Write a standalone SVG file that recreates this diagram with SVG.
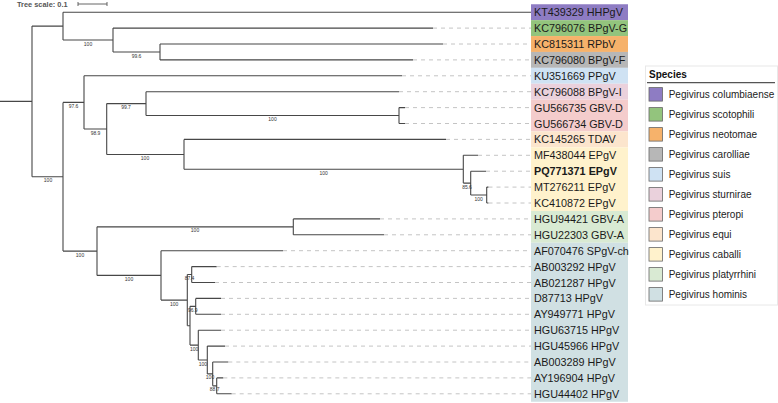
<svg xmlns="http://www.w3.org/2000/svg" width="778" height="403" viewBox="0 0 778 403">
<style>
.br{fill:none;stroke:#474747;stroke-width:1.1}
.ds{fill:none;stroke:#bdbdbd;stroke-width:0.9;stroke-dasharray:4 4}
.bs{font-family:"Liberation Sans",Arial,sans-serif;font-size:5px;fill:#333;text-anchor:middle}
.lb{font-family:"Liberation Sans",Arial,sans-serif;font-size:10.8px;fill:#1a1a1a}
.lg{font-family:"Liberation Sans",Arial,sans-serif;font-size:10px;fill:#222}
.sw{stroke:#666;stroke-width:0.8}
</style>
<rect width="778" height="403" fill="#fff"/>
<g id="tree-scale">
<text x="17" y="6.8" font-family="Liberation Sans,Arial,sans-serif" font-size="7.4" font-weight="bold" fill="#555">Tree scale: 0.1</text>
<path d="M78 4H107M78 2V6M107 2V6" fill="none" stroke="#555" stroke-width="0.9"/>
</g>
<g id="bands">
<rect x="531" y="4.25" width="97" height="15.9" fill="#8e7cc3"/>
<rect x="531" y="20.15" width="97" height="15.9" fill="#93c47d"/>
<rect x="531" y="36.05" width="97" height="15.9" fill="#f6b26b"/>
<rect x="531" y="51.95" width="97" height="15.9" fill="#b7b7b7"/>
<rect x="531" y="67.85" width="97" height="15.9" fill="#cfe2f3"/>
<rect x="531" y="83.75" width="97" height="15.9" fill="#ead1dc"/>
<rect x="531" y="99.65" width="97" height="31.8" fill="#f4cccc"/>
<rect x="531" y="131.45" width="97" height="15.9" fill="#fce5cd"/>
<rect x="531" y="147.35" width="97" height="63.6" fill="#fff2cc"/>
<rect x="531" y="210.95" width="97" height="31.8" fill="#d9ead3"/>
<rect x="531" y="242.75" width="97" height="159" fill="#d0e0e3"/>
</g>
<g id="connectors">
<path class="br" d="M0 101.4H32M32 26.1V176.75"/>
<path class="br" d="M32 26.1H63M63 12.2V40M63 12.2H531"/>
<path class="br" d="M63 40H113M113 28.1V51.95M113 28.1H433"/>
<path class="br" d="M113 51.95H160M160 44V59.9M160 44H443M160 59.9H413"/>
<path class="br" d="M32 176.75H63M63 102.4V251.1"/>
<path class="br" d="M63 102.4H84M84 75.8V129.05M84 75.8H402"/>
<path class="br" d="M84 129.05H106.7M106.7 103.6V154.5"/>
<path class="br" d="M106.7 103.6H146M146 91.7V115.55M146 91.7H399"/>
<path class="br" d="M146 115.55H399M399 107.6V123.5M399 107.6H405M399 123.5H405"/>
<path class="br" d="M106.7 154.5H184M184 139.4V169.2M184 139.4H446"/>
<path class="br" d="M184 169.2H463.3M463.3 155.3V183.1M463.3 155.3H478"/>
<path class="br" d="M463.3 183.1H470.7M470.7 171.2V195.05M470.7 171.2H486"/>
<path class="br" d="M470.7 195.05H486.7M486.7 187.1V203M486.7 187.1H488.5M486.7 203H488.5"/>
<path class="br" d="M63 251.1H97M97 226.85V275.4"/>
<path class="br" d="M97 226.85H293.3M293.3 218.9V234.8M293.3 218.9H380M293.3 234.8H384"/>
<path class="br" d="M97 275.4H161M161 250.7V300.1M161 250.7H283"/>
<path class="br" d="M161 300.1H187.3M187.3 274.55V325.7"/>
<path class="br" d="M187.3 274.55H191.7M191.7 266.6V282.5M191.7 266.6H216.7M191.7 282.5H215"/>
<path class="br" d="M187.3 325.7H190M190 306.35V345.1"/>
<path class="br" d="M190 306.35H195.7M195.7 298.4V314.3M195.7 298.4H221M195.7 314.3H221"/>
<path class="br" d="M190 345.1H198.3M198.3 330.2V360M198.3 330.2H221"/>
<path class="br" d="M198.3 360H207.3M207.3 346.1V373.9M207.3 346.1H225"/>
<path class="br" d="M207.3 373.9H212.7M212.7 362V385.85M212.7 362H228.3"/>
<path class="br" d="M212.7 385.85H216.7M216.7 377.9V393.8M216.7 377.9H223.3M216.7 393.8H231.7"/>
<path class="ds" d="M433 28.1H531M443 44H531M413 59.9H531M402 75.8H531M399 91.7H531M405 107.6H531M405 123.5H531M446 139.4H531M478 155.3H531M486 171.2H531M488.5 187.1H531M488.5 203H531M380 218.9H531M384 234.8H531M283 250.7H531M216.7 266.6H531M215 282.5H531M221 298.4H531M221 314.3H531M221 330.2H531M225 346.1H531M228.3 362H531M223.3 377.9H531M231.7 393.8H531"/>
</g>
<g id="support">
<text class="bs" x="88" y="45.5">100</text>
<text class="bs" x="136.5" y="57.5">99.6</text>
<text class="bs" x="73.5" y="108">97.6</text>
<text class="bs" x="95.5" y="134.5">98.9</text>
<text class="bs" x="126" y="109">99.7</text>
<text class="bs" x="272.5" y="121">100</text>
<text class="bs" x="145" y="160">100</text>
<text class="bs" x="323.7" y="174.7">100</text>
<text class="bs" x="467" y="188.6">85.6</text>
<text class="bs" x="478.7" y="200.5">100</text>
<text class="bs" x="48" y="182.2">100</text>
<text class="bs" x="80" y="256.6">100</text>
<text class="bs" x="195" y="232.3">100</text>
<text class="bs" x="129" y="280.9">100</text>
<text class="bs" x="174.2" y="305.6">100</text>
<text class="bs" x="189.5" y="280">87.4</text>
<text class="bs" x="192.8" y="311.8">96.9</text>
<text class="bs" x="194.2" y="350.6">100</text>
<text class="bs" x="202.8" y="365.5">100</text>
<text class="bs" x="210" y="379.4">100</text>
<text class="bs" x="214.7" y="391.3">88.7</text>
</g>
<g id="leaf-KT439329"><text class="lb" x="534" y="16.2">KT439329 HHPgV</text></g>
<g id="leaf-KC796076"><text class="lb" x="534" y="32.1">KC796076 BPgV-G</text></g>
<g id="leaf-KC815311"><text class="lb" x="534" y="48">KC815311 RPbV</text></g>
<g id="leaf-KC796080"><text class="lb" x="534" y="63.9">KC796080 BPgV-F</text></g>
<g id="leaf-KU351669"><text class="lb" x="534" y="79.8">KU351669 PPgV</text></g>
<g id="leaf-KC796088"><text class="lb" x="534" y="95.7">KC796088 BPgV-I</text></g>
<g id="leaf-GU566735"><text class="lb" x="534" y="111.6">GU566735 GBV-D</text></g>
<g id="leaf-GU566734"><text class="lb" x="534" y="127.5">GU566734 GBV-D</text></g>
<g id="leaf-KC145265"><text class="lb" x="534" y="143.4">KC145265 TDAV</text></g>
<g id="leaf-MF438044"><text class="lb" x="534" y="159.3">MF438044 EPgV</text></g>
<g id="leaf-PQ771371"><text class="lb" x="534" y="175.2" font-weight="bold">PQ771371 EPgV</text></g>
<g id="leaf-MT276211"><text class="lb" x="534" y="191.1">MT276211 EPgV</text></g>
<g id="leaf-KC410872"><text class="lb" x="534" y="207">KC410872 EPgV</text></g>
<g id="leaf-HGU94421"><text class="lb" x="534" y="222.9">HGU94421 GBV-A</text></g>
<g id="leaf-HGU22303"><text class="lb" x="534" y="238.8">HGU22303 GBV-A</text></g>
<g id="leaf-AF070476"><text class="lb" x="534" y="254.7">AF070476 SPgV-ch</text></g>
<g id="leaf-AB003292"><text class="lb" x="534" y="270.6">AB003292 HPgV</text></g>
<g id="leaf-AB021287"><text class="lb" x="534" y="286.5">AB021287 HPgV</text></g>
<g id="leaf-D87713"><text class="lb" x="534" y="302.4">D87713 HPgV</text></g>
<g id="leaf-AY949771"><text class="lb" x="534" y="318.3">AY949771 HPgV</text></g>
<g id="leaf-HGU63715"><text class="lb" x="534" y="334.2">HGU63715 HPgV</text></g>
<g id="leaf-HGU45966"><text class="lb" x="534" y="350.1">HGU45966 HPgV</text></g>
<g id="leaf-AB003289"><text class="lb" x="534" y="366">AB003289 HPgV</text></g>
<g id="leaf-AY196904"><text class="lb" x="534" y="381.9">AY196904 HPgV</text></g>
<g id="leaf-HGU44402"><text class="lb" x="534" y="397.8">HGU44402 HPgV</text></g>
<g id="legend">
<rect x="645.5" y="66" width="132" height="239" fill="#fff" stroke="#e8e8e8" stroke-width="1"/>
<text x="649" y="77.5" font-family="Liberation Sans,Arial,sans-serif" font-size="10" font-weight="bold" fill="#111">Species</text>
<path d="M647 82.7H775" stroke="#555" stroke-width="1.3"/>
<rect class="sw" x="649" y="87.6" width="13.5" height="13.5" fill="#8e7cc3"/><text class="lg" x="668.7" y="97.8">Pegivirus columbiaense</text>
<rect class="sw" x="649" y="107.6" width="13.5" height="13.5" fill="#93c47d"/><text class="lg" x="668.7" y="117.8">Pegivirus scotophili</text>
<rect class="sw" x="649" y="127.6" width="13.5" height="13.5" fill="#f6b26b"/><text class="lg" x="668.7" y="137.8">Pegivirus neotomae</text>
<rect class="sw" x="649" y="147.6" width="13.5" height="13.5" fill="#b7b7b7"/><text class="lg" x="668.7" y="157.8">Pegivirus carolliae</text>
<rect class="sw" x="649" y="167.6" width="13.5" height="13.5" fill="#cfe2f3"/><text class="lg" x="668.7" y="177.8">Pegivirus suis</text>
<rect class="sw" x="649" y="187.6" width="13.5" height="13.5" fill="#ead1dc"/><text class="lg" x="668.7" y="197.8">Pegivirus sturnirae</text>
<rect class="sw" x="649" y="207.6" width="13.5" height="13.5" fill="#f4cccc"/><text class="lg" x="668.7" y="217.8">Pegivirus pteropi</text>
<rect class="sw" x="649" y="227.6" width="13.5" height="13.5" fill="#fce5cd"/><text class="lg" x="668.7" y="237.8">Pegivirus equi</text>
<rect class="sw" x="649" y="247.6" width="13.5" height="13.5" fill="#fff2cc"/><text class="lg" x="668.7" y="257.8">Pegivirus caballi</text>
<rect class="sw" x="649" y="267.6" width="13.5" height="13.5" fill="#d9ead3"/><text class="lg" x="668.7" y="277.8">Pegivirus platyrrhini</text>
<rect class="sw" x="649" y="287.6" width="13.5" height="13.5" fill="#d0e0e3"/><text class="lg" x="668.7" y="297.8">Pegivirus hominis</text>
</g>
</svg>
